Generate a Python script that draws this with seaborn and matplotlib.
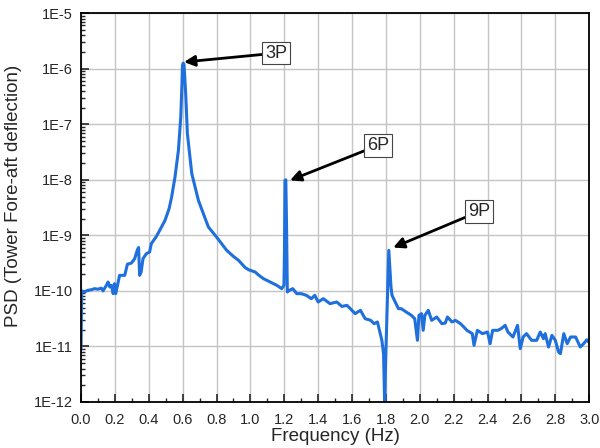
import numpy as np
import pandas as pd
import matplotlib
matplotlib.use("Agg")
import matplotlib.pyplot as plt
import matplotlib.ticker as mticker
import seaborn as sns

freq = [0.000, 0.004, 0.02, 0.04, 0.06, 0.08, 0.10, 0.12, 0.13, 0.15, 0.16, 0.17, 0.18, 0.19,
        0.198, 0.205, 0.228, 0.258, 0.274, 0.297, 0.317, 0.333, 0.340, 0.346, 0.355, 0.366,
        0.386, 0.405, 0.415, 0.445, 0.47, 0.496, 0.52, 0.535, 0.555, 0.575, 0.589, 0.596,
        0.599, 0.603, 0.608, 0.613, 0.618, 0.628, 0.654, 0.693, 0.752, 0.80, 0.86, 0.90,
        0.93, 0.969, 0.99, 1.028, 1.05, 1.077, 1.116, 1.156, 1.185, 1.198, 1.201, 1.204,
        1.209, 1.213, 1.218, 1.23, 1.25, 1.274, 1.30, 1.33, 1.36, 1.38, 1.40, 1.43, 1.47,
        1.51, 1.54, 1.57, 1.59, 1.618, 1.65, 1.677, 1.71, 1.73, 1.75, 1.762, 1.776, 1.786,
        1.793, 1.797, 1.805, 1.811, 1.817, 1.824, 1.83, 1.836, 1.855, 1.874, 1.89, 1.92,
        1.95, 1.97, 1.986, 1.995, 2.01, 2.02, 2.03, 2.05, 2.07, 2.10, 2.13, 2.15, 2.163,
        2.19, 2.21, 2.24, 2.26, 2.278, 2.31, 2.32, 2.34, 2.37, 2.40, 2.415, 2.43, 2.46,
        2.48, 2.504, 2.52, 2.55, 2.577, 2.593, 2.61, 2.63, 2.66, 2.69, 2.711, 2.73, 2.74,
        2.76, 2.78, 2.80, 2.819, 2.83, 2.85, 2.87, 2.89, 2.92, 2.947, 2.967, 2.986, 3.0]

psd_log10 = [-11.05, -10.0, -10.02, -9.99, -9.98, -9.96, -9.97, -9.95, -10.0, -9.9, -9.84, -9.93,
             -9.90, -10.05, -9.87, -10.05, -9.72, -9.72, -9.52, -9.50, -9.42, -9.26, -9.22, -9.72,
             -9.66, -9.42, -9.33, -9.30, -9.15, -9.02, -8.88, -8.73, -8.52, -8.31, -7.95, -7.47,
             -6.87, -6.27, -5.94, -5.90, -5.92, -6.2, -6.45, -7.17, -7.89, -8.37, -8.85, -9.03,
             -9.27, -9.38, -9.45, -9.58, -9.62, -9.66, -9.72, -9.78, -9.84, -9.90, -9.96, -9.90,
             -9.33, -8.01, -8.0, -8.73, -10.02, -9.99, -9.96, -10.05, -10.05, -10.08, -10.14,
             -10.08, -10.2, -10.14, -10.23, -10.20, -10.28, -10.26, -10.32, -10.41, -10.35,
             -10.50, -10.53, -10.59, -10.56, -10.71, -10.89, -11.13, -12.1, -11.4, -10.53, -9.93,
             -9.27, -9.63, -9.93, -10.08, -10.2, -10.32, -10.32, -10.38, -10.44, -10.5, -10.89,
             -10.44, -10.41, -10.71, -10.44, -10.35, -10.53, -10.47, -10.59, -10.58, -10.47,
             -10.56, -10.53, -10.59, -10.65, -10.71, -10.77, -10.98, -10.71, -10.77, -10.74,
             -10.95, -10.71, -10.71, -10.68, -10.62, -10.74, -10.83, -10.62, -11.04, -10.83,
             -10.77, -10.89, -10.89, -10.74, -10.86, -10.77, -11.01, -10.80, -10.89, -11.10,
             -11.13, -10.77, -10.95, -10.83, -10.83, -11.01, -10.95, -10.88, -10.93]

peak_labels = ["3P", "6P", "9P"]
peak_tip_freq = [0.608, 1.234, 1.843]
peak_tip_log10 = [-5.88, -8.01, -9.22]
label_freq = [1.152, 1.754, 2.351]
label_log10 = [-5.72, -7.38, -8.57]

x_ticks = [0.0, 0.2, 0.4, 0.6, 0.8, 1.0, 1.2, 1.4, 1.6, 1.8, 2.0, 2.2, 2.4, 2.6, 2.8, 3.0]

sns.set_theme(style="white")
plt.rcParams['font.family'] = ['Liberation Sans', 'DejaVu Sans']

df = pd.DataFrame({"Frequency": freq, "PSD": 10 ** np.array(psd_log10)})

fig = plt.figure(figsize=(6.0, 4.48), dpi=100)
ax = fig.add_axes([0.135, 0.1027, 0.847, 0.868])

sns.lineplot(data=df, x="Frequency", y="PSD", ax=ax, sort=False, estimator=None,
             color="#1f6fdc", linewidth=2.2)

ax.set_yscale("log")
ax.set_xlim(0, 3.0)
ax.set_ylim(1e-12, 1e-5)
ax.set_xticks(x_ticks)
ax.set_xticklabels([f"{t:.1f}" for t in x_ticks])
ax.xaxis.set_minor_locator(mticker.MultipleLocator(0.1))
ax.yaxis.set_major_locator(mticker.LogLocator(base=10, numticks=20))
ax.yaxis.set_minor_locator(mticker.LogLocator(base=10, subs=np.arange(2, 10), numticks=20))
ax.yaxis.set_minor_formatter(mticker.NullFormatter())
ax.yaxis.set_major_formatter(mticker.FuncFormatter(lambda v, p: f"1E{int(round(np.log10(v)))}"))

ax.grid(True, which="major", color="#c4c4c4", linewidth=1.0)
ax.set_axisbelow(True)
ax.tick_params(which="major", direction="in", length=6, width=1.2, labelsize=10.5,
               bottom=True, left=True, top=False, right=False)
ax.tick_params(axis="x", which="major", pad=8)
ax.tick_params(axis="y", which="major", pad=6)
ax.tick_params(which="minor", direction="in", length=3, width=1.0,
               bottom=True, left=True, top=False, right=False)
for s in ax.spines.values():
    s.set_color("black")
    s.set_linewidth(1.3)

ax.set_xlabel("Frequency (Hz)", fontsize=13.5)
ax.set_ylabel("PSD (Tower Fore-aft deflection)", fontsize=13.5)
ax.xaxis.set_label_coords(0.5, -0.066)
ax.yaxis.set_label_coords(-0.116, 0.53)

for lab, tx, ty, lx, ly in zip(peak_labels, peak_tip_freq, peak_tip_log10, label_freq, label_log10):
    ax.annotate(lab, xy=(tx, 10 ** ty), xytext=(lx, 10 ** ly), fontsize=13,
                ha="center", va="center",
                bbox=dict(boxstyle="square,pad=0.15", fc="white", ec="#444444", lw=0.8),
                arrowprops=dict(arrowstyle="-|>", color="black", lw=2, mutation_scale=16,
                                shrinkA=0, shrinkB=0))

fig.savefig("out.png", dpi=100)
